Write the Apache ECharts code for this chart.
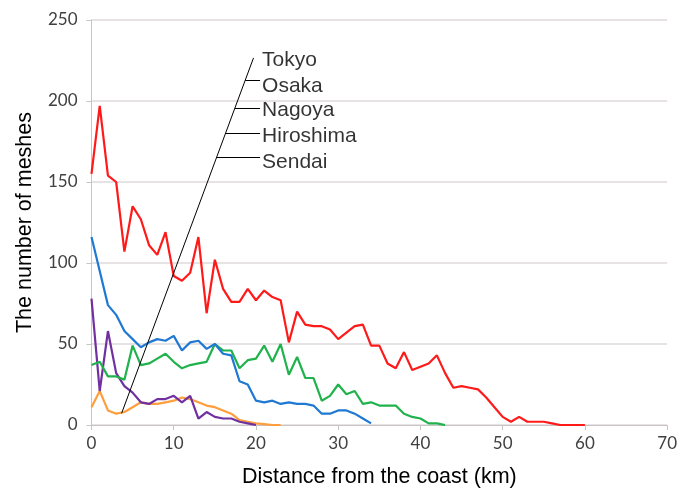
<!DOCTYPE html>
<html>
<head>
<meta charset="utf-8">
<script src="https://cdn.jsdelivr.net/npm/echarts@6/dist/echarts.min.js"></script>
<style>
html,body{margin:0;padding:0;background:#fff;}
#chart{width:680px;height:493px;}
</style>
</head>
<body>
<div id="chart"></div>
<script>
// Data: number of meshes by distance from the coast (km), 1 km steps from 0
const tokyo = [155,197,154,150,107,135,127,111,105,119,92,89,94,116,69,102,84,76,76,84,77,83,79,77,51,70,62,61,61,59,53,57,61,62,49,49,38,35,45,34,36,38,43,32,23,24,23,22,17,11,5,2,5,2,2,2,1,0,0,0,0];
const osaka = [116,95,74,68,58,53,48,51,53,52,55,46,51,52,47,50,44,43,27,25,15,14,15,13,14,13,13,12,7,7,9,9,7,4,1];
const nagoya = [37,39,30,30,28,49,37,38,41,44,39,35,37,38,39,50,46,46,35,40,41,49,39,50,31,42,29,29,15,18,25,19,21,13,14,12,12,12,7,5,4,1,1,0];
const hiroshima = [78,21,58,32,24,20,14,13,16,16,18,14,18,4,8,5,4,4,2,1,0];
const sendai = [11,21,9,7,8,11,14,13,13,14,15,17,16,14,12,11,9,7,3,2,1,0.5,0,0];

const cityNames = ['Tokyo','Osaka','Nagoya','Hiroshima','Sendai'];
const xTicks = [0,10,20,30,40,50,60,70];
const yTicks = [0,50,100,150,200,250];

// Leader-line legend annotation (data coordinates)
const leaderFrom = [3.66, 7.2];
const leaderTo = [19.7, 226.6];
const tickLevels = [null, 212.9, 195.6, 180.3, 165];
const labelLevels = [226, 210.3, 195, 179.3, 163.4];
const labelX = 20.5;

const colors = ['#FF1A1A','#1F78D2','#20B24C','#7030A0','#FF9E3D'];
const seriesData = [tokyo, osaka, nagoya, hiroshima, sendai];

function toPairs(arr){ return arr.map((v,i)=>[i,v]); }
function leaderXAt(v){
  return leaderFrom[0] + (v-leaderFrom[1])*(leaderTo[0]-leaderFrom[0])/(leaderTo[1]-leaderFrom[1]);
}

const chart = echarts.init(document.getElementById('chart'), null, {renderer:'canvas'});

const series = seriesData.map((d,i)=>({
  name: cityNames[i],
  type: 'line',
  data: toPairs(d),
  symbol: 'none',
  lineStyle: {color: colors[i], width: 2.2},
  itemStyle: {color: colors[i]},
  z: 5 - i + 2,
  animation: false
}));

series.push({
  type: 'line',
  data: [leaderFrom, leaderTo],
  symbol: 'none',
  lineStyle: {color: '#000', width: 1},
  z: 10,
  animation: false
});

series.push({
  type: 'lines',
  coordinateSystem: 'cartesian2d',
  data: tickLevels.filter(v=>v!==null).map(v=>({coords: [[leaderXAt(v), v],[labelX, v]]})),
  lineStyle: {color: '#000', width: 1, opacity: 1},
  z: 10,
  animation: false
});

series.push({
  type: 'scatter',
  data: labelLevels.map((v,i)=>({name: cityNames[i], value: [labelX, v]})),
  symbolSize: 0,
  label: {
    show: true,
    position: 'right',
    distance: 2,
    offset: [0, 1.5],
    formatter: p=>p.name,
    color: '#000',
    fontFamily: 'Liberation Sans, Arial, sans-serif',
    fontSize: 21
  },
  z: 11,
  animation: false
});

chart.setOption({
  backgroundColor: '#fff',
  animation: false,
  grid: {left: 91.5, right: 10.5, top: 20, bottom: 64, containLabel: false},
  xAxis: {
    type: 'value', min: xTicks[0], max: xTicks[xTicks.length-1], interval: 10,
    name: 'Distance from the coast (km)',
    nameLocation: 'middle', nameGap: 41,
    nameTextStyle: {fontFamily: 'Liberation Sans, Arial, sans-serif', fontSize: 21.5, color: '#000'},
    axisLine: {show: true, lineStyle: {color: '#C8C4C6', width: 1}},
    axisTick: {show: true, inside: false, length: 5, lineStyle: {color: '#C8C4C6'}},
    axisLabel: {margin: 10, fontFamily: 'Lato, sans-serif', fontSize: 17, color: '#404040'},
    splitLine: {show: false}
  },
  yAxis: {
    type: 'value', min: yTicks[0], max: yTicks[yTicks.length-1], interval: 50,
    name: 'The number of meshes',
    nameLocation: 'middle', nameGap: 55, nameRotate: 90,
    nameTextStyle: {fontFamily: 'Liberation Sans, Arial, sans-serif', fontSize: 21.5, color: '#000'},
    axisLine: {show: true, lineStyle: {color: '#C8C4C6', width: 1}},
    axisTick: {show: true, inside: false, length: 5, lineStyle: {color: '#C8C4C6'}},
    axisLabel: {margin: 14, fontFamily: 'Lato, sans-serif', fontSize: 17, color: '#404040'},
    splitLine: {show: true, lineStyle: {color: '#DFDADD', width: 1.5}}
  },
  series: series
});
</script>
</body>
</html>
